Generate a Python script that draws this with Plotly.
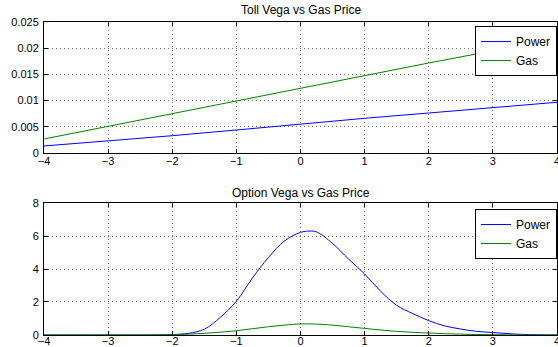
import plotly.graph_objects as go
from plotly.subplots import make_subplots

# Top panel: Toll Vega vs Gas Price
toll_x = [-4, -3, -2, -1, 0, 1, 2, 3, 4]
toll_power = [0.00134, 0.00229, 0.0033, 0.00439, 0.00553, 0.00662, 0.00763, 0.00872, 0.00968]
toll_gas = [0.00267, 0.0051, 0.00744, 0.00986, 0.01235, 0.01475, 0.01718, 0.0195, 0.0219]

# Bottom panel: Option Vega vs Gas Price
opt_x = [-4, -3.5, -3, -2.5, -2, -1.75, -1.5, -1.25, -1, -0.75, -0.5, -0.25, 0, 0.15, 0.25,
         0.5, 0.75, 1, 1.25, 1.5, 1.75, 2, 2.25, 2.5, 2.75, 3, 3.25, 3.5, 4]
opt_power = [0, 0, 0, 0, 0.03, 0.1, 0.35, 1.07, 2.05, 3.45, 4.7, 5.7, 6.22, 6.3, 6.25,
             5.55, 4.6, 3.7, 2.65, 1.8, 1.3, 0.87, 0.55, 0.36, 0.22, 0.15, 0.08, 0.03, 0]
opt_gas = [0, 0, 0, 0, 0.02, 0.05, 0.1, 0.17, 0.26, 0.38, 0.5, 0.6, 0.67, 0.67, 0.66,
           0.6, 0.5, 0.4, 0.3, 0.22, 0.16, 0.12, 0.08, 0.05, 0.03, 0.02, 0.01, 0, 0]

titles = ["Toll Vega vs Gas Price", "Option Vega vs Gas Price"]
x_ticks = [-4, -3, -2, -1, 0, 1, 2, 3, 4]

BLUE = "rgb(0,0,255)"
GREEN = "rgb(0,128,0)"
FONT = "Liberation Sans, Arial, sans-serif"

fig = make_subplots(rows=2, cols=1, vertical_spacing=0.16)
fig.update_layout(yaxis=dict(domain=[0.5815, 1.0]), yaxis2=dict(domain=[0.0, 0.4217]))

fig.add_trace(go.Scatter(x=toll_x, y=toll_power, mode="lines", name="Power",
                         line=dict(color=BLUE, width=1), legend="legend"), row=1, col=1)
fig.add_trace(go.Scatter(x=toll_x, y=toll_gas, mode="lines", name="Gas",
                         line=dict(color=GREEN, width=1), legend="legend"), row=1, col=1)
fig.add_trace(go.Scatter(x=opt_x, y=opt_power, mode="lines", name="Power",
                         line=dict(color=BLUE, width=1, shape="spline"), legend="legend2"), row=2, col=1)
fig.add_trace(go.Scatter(x=opt_x, y=opt_gas, mode="lines", name="Gas",
                         line=dict(color=GREEN, width=1, shape="spline"), legend="legend2"), row=2, col=1)

axis_common = dict(showline=True, linecolor="black", linewidth=1, mirror="ticks",
                   ticks="inside", ticklen=4, tickcolor="black", automargin=False,
                   showgrid=True, gridcolor="rgb(110,110,110)", griddash="1px,3px", gridwidth=1,
                   zeroline=False, tickfont=dict(family=FONT, size=11, color="black"))

fig.update_xaxes(range=[-4, 4], tickvals=x_ticks, ticklabeloverflow="allow", **axis_common)
fig.update_xaxes(ticklabelstandoff=-2, row=1, col=1)
fig.update_xaxes(ticklabelstandoff=-4, row=2, col=1)
fig.update_yaxes(ticklabelstandoff=2, **axis_common)
fig.update_yaxes(range=[0, 0.025], dtick=0.005, row=1, col=1)
fig.update_yaxes(range=[0, 8], dtick=2, row=2, col=1)

fig.add_annotation(text=titles[0], xref="paper", yref="paper", x=0.5, y=1.0,
                   yshift=3, xanchor="center", yanchor="bottom", showarrow=False,
                   font=dict(family=FONT, size=12, color="black"))
fig.add_annotation(text=titles[1], xref="paper", yref="paper", x=0.5, y=0.4217,
                   yshift=1, xanchor="center", yanchor="bottom", showarrow=False,
                   font=dict(family=FONT, size=12, color="black"))

legend_common = dict(xanchor="right", x=1.0, yanchor="top", bgcolor="white",
                     bordercolor="black", borderwidth=1, tracegroupgap=0,
                     font=dict(family=FONT, size=12, color="black"))
fig.update_layout(
    legend=dict(y=0.987, **legend_common),
    legend2=dict(y=0.4026, **legend_common),
    showlegend=True,
    width=558, height=347,
    margin=dict(l=44, r=1, t=22, b=12, autoexpand=False),
    paper_bgcolor="white", plot_bgcolor="white",
)

fig.write_html("out.html", config={"displayModeBar": False},
               post_script="document.body.style.margin='0px';document.body.style.overflow='hidden';")
